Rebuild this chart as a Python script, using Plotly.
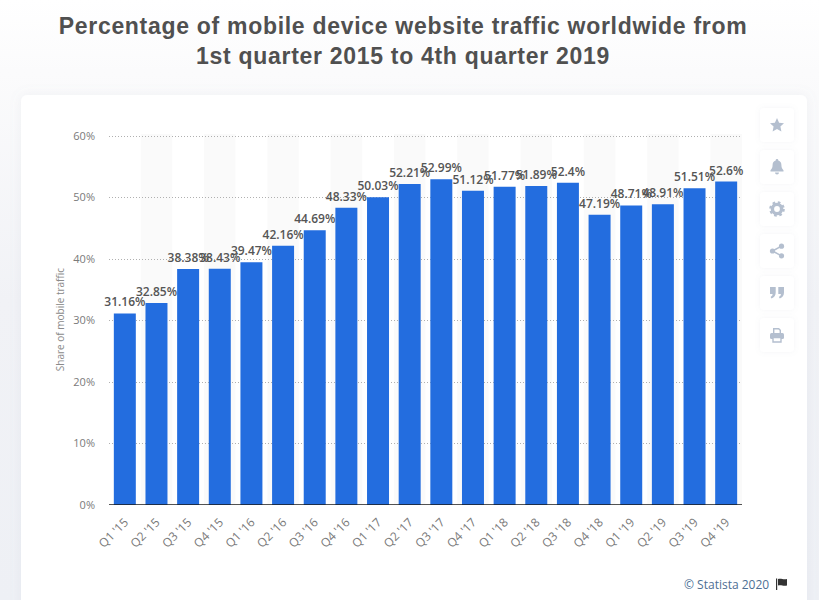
import base64
import plotly.graph_objects as go

categories = ["Q1 '15","Q2 '15","Q3 '15","Q4 '15","Q1 '16","Q2 '16","Q3 '16","Q4 '16",
              "Q1 '17","Q2 '17","Q3 '17","Q4 '17","Q1 '18","Q2 '18","Q3 '18","Q4 '18",
              "Q1 '19","Q2 '19","Q3 '19","Q4 '19"]
values = [31.16,32.85,38.38,38.43,39.47,42.16,44.69,48.33,50.03,52.21,52.99,51.12,
          51.77,51.89,52.4,47.19,48.71,48.91,51.51,52.6]
labels = ["31.16%","32.85%","38.38%","38.43%","39.47%","42.16%","44.69%","48.33%",
          "50.03%","52.21%","52.99%","51.12%","51.77%","51.89%","52.4%","47.19%",
          "48.71%","48.91%","51.51%","52.6%"]
y_ticks = [0,10,20,30,40,50,60]
y_ticklabels = ["0%","10%","20%","30%","40%","50%","60%"]
title = "Percentage of mobile device website traffic worldwide from<br>1st quarter 2015 to 4th quarter 2019"

W, H = 819, 600
L, R, T, B = 109, 742, 134, 505
Y_MAX = 60.33
IC = "#b4bfcf"

def button(y, inner):
    return (f'<rect x="760" y="{y}" width="34" height="34" rx="4" fill="#fff" filter="url(#s2)"/>'
            f'<g transform="translate(777 {y+17})" fill="{IC}" stroke="none">{inner}</g>')

star = '<path d="M0-7 2.1-2.3 7-1.7 3.4 1.6 4.4 6.5 0 4 -4.4 6.5 -3.4 1.6 -7-1.7 -2.1-2.3Z"/>'
bell = '<path d="M0-8a1.3 1.3 0 0 1 1.3 1.4C3.6-6 4.4-4 4.4-2c0 3 1 4 2.1 5.2V4.5h-13V3.2C-5.400 2-4.400 1-4.400-2c0-2 .8-4 3.100-4.600A1.300 1.300 0 0 1 0-8Z"/><path d="M-2 5.500h4A2 2 0 0 1-2 5.500Z"/>'
gear = '<circle r="4.600" fill="none" stroke="%s" stroke-width="3.400"/><circle r="5.600" fill="none" stroke="%s" stroke-width="2.400" stroke-dasharray="2.200 2.200"  transform="scale(1.150)"/>' % (IC, IC)
share = '<circle cx="-4.500" cy="0" r="2.600"/><circle cx="4.500" cy="-4.800" r="2.600"/><circle cx="4.500" cy="4.800" r="2.600"/><path d="M-4.500 0 4.500-4.800M-4.500 0 4.500 4.800" stroke="%s" stroke-width="1.500"/>' % IC
quote = '<path d="M-7-6h5.700v5.500c0 3-1.500 5-4.200 6l-.9-1.500c1.300-.7 2-1.600 2-2.900H-7ZM1.300-6H7v5.500c0 3-1.500 5-4.200 6l-.9-1.500c1.300-.7 2-1.600 2-2.900H1.300Z"/>'
printer = ('<path d="M-4-7H2L4-5V-2H2.600V-4.400L1.400-5.600H-2.600V-2H-4Z"/><rect x="-7" y="-2" width="14" height="6" rx="1.500"/>'
           '<path d="M-4 2.500H4V7H-4Z" fill="#fff" stroke="%s" stroke-width="1.400"/>' % IC)

flag = ('<path d="M776 578.500h1.200V590H776Z" fill="#333"/>'
        '<path d="M778 579c3-1.200 5 1 9 0v6.500c-4 1-6-1.200-9 0Z" fill="#333"/>')

svg = f'''<svg xmlns="http://www.w3.org/2000/svg" width="{W}" height="{H}" viewBox="0 0 {W} {H}">
<defs>
<linearGradient id="bg" x1="0" y1="0" x2="0" y2="1">
<stop offset="0" stop-color="#ffffff"/><stop offset="0.12" stop-color="#fbfbfc"/><stop offset="0.5" stop-color="#f1f2f6"/><stop offset="1" stop-color="#eef0f5"/>
</linearGradient>
<filter id="s1" x="-5%" y="-5%" width="110%" height="110%"><feDropShadow dx="0" dy="0" stdDeviation="6" flood-color="#8a93a8" flood-opacity="0.10"/></filter>
<filter id="s2" x="-30%" y="-30%" width="160%" height="160%"><feDropShadow dx="0" dy="0" stdDeviation="2.500" flood-color="#8a93a8" flood-opacity="0.10"/></filter>
</defs>
<rect width="{W}" height="{H}" fill="url(#bg)"/>
<rect x="21" y="95" width="786" height="520" rx="6" fill="#fff" filter="url(#s1)"/>
{button(108,star)}{button(150,bell)}{button(192,gear)}{button(234,share)}{button(276,quote)}{button(318,printer)}
{flag}
</svg>'''
uri = "data:image/svg+xml;base64," + base64.b64encode(svg.encode()).decode()

pw, ph = R - L, B - T

fig = go.Figure()
fig.add_bar(
    x=categories, y=values, text=labels, textposition="outside", cliponaxis=False,
    textangle=0, constraintext="none",
    marker=dict(color="#236ddf", line=dict(width=0)),
    textfont=dict(family="Open Sans", size=12, color="#555555", weight=600),
    hoverinfo="skip",
)

bands = [dict(type="rect", xref="x", yref="y", layer="below",
              x0=i - 0.5, x1=i + 0.5, y0=0, y1=Y_MAX,
              fillcolor="rgba(0,0,0,0.02)", line=dict(width=0))
         for i in range(1, len(categories), 2)]
axis_line = dict(type="line", xref="paper", yref="y", layer="above",
                 x0=0, x1=1, y0=0, y1=0, line=dict(color="#1a1a1a", width=1.5))

fig.update_layout(
    width=W, height=H,
    margin=dict(l=L, r=W - R, t=T, b=H - B, pad=0),
    paper_bgcolor="#ffffff", plot_bgcolor="rgba(0,0,0,0)",
    showlegend=False, bargap=0.305,
    uniformtext=dict(mode=False),
    shapes=bands + [axis_line],
    images=[dict(source=uri, xref="paper", yref="paper", layer="below",
                 x=-L / pw, y=(B) / ph, sizex=W / pw, sizey=H / ph,
                 xanchor="left", yanchor="top", sizing="stretch")],
    xaxis=dict(
        type="category", range=[-0.5, len(categories) - 0.5], tickangle=-45,
        tickfont=dict(family="Open Sans", size=12, color="#7a7a7a"),
        showgrid=False, ticks="", showline=False,
        zeroline=False, ticklabelstandoff=7,
    ),
    yaxis=dict(
        range=[0, Y_MAX], tickvals=y_ticks, ticktext=y_ticklabels,
        tickfont=dict(family="Open Sans", size=11, color="#7a7a7a"),
        showgrid=True, gridcolor="#b0b0b0", griddash="1px,2px", gridwidth=1,
        zeroline=False, ticks="", showline=False, ticklabelstandoff=13,
        title=dict(text="Share of mobile traffic", standoff=6,
                   font=dict(family="Open Sans", size=10, color="#8a8a8a")),
    ),
    annotations=[
        dict(text=title, xref="paper", yref="paper", showarrow=False,
             x=(402.5 - L) / pw, y=(B - 41) / ph, xanchor="center", yanchor="middle",
             align="center",
             font=dict(family="Liberation Sans", size=23, color="#505050", weight="bold")),
        dict(text="© Statista 2020", xref="paper", yref="paper", showarrow=False,
             x=(770.5 - L) / pw, y=(B - 584) / ph, xanchor="right", yanchor="middle",
             font=dict(family="Open Sans", size=12, color="#4d6f94")),
    ],
)

fig.write_html("out.html", config=dict(displayModeBar=False),
               post_script="document.body.style.margin='0';document.body.style.overflow='hidden';"
                           "var t=document.querySelector('.annotation-text');if(t){t.style.letterSpacing='0.7px';}")
